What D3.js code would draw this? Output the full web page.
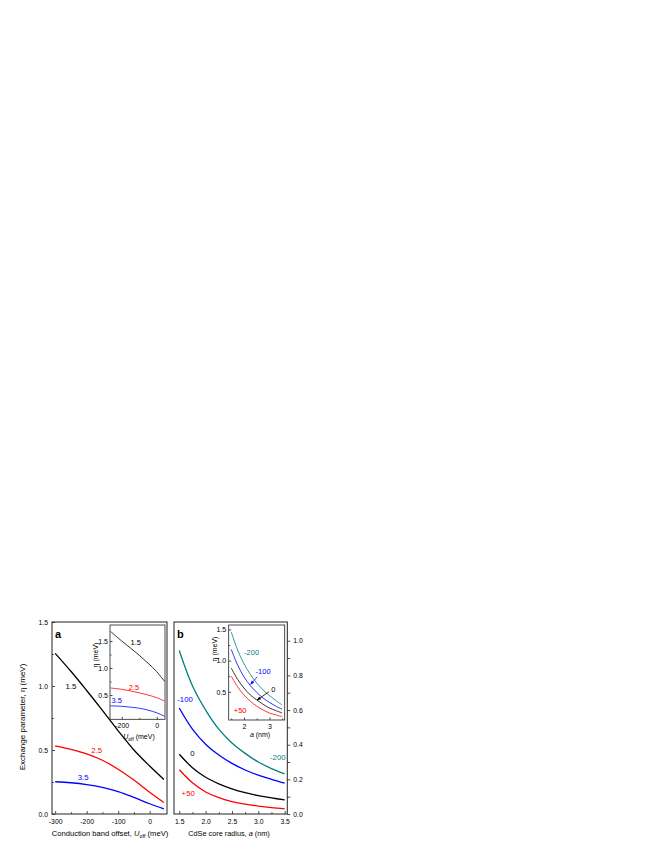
<!DOCTYPE html>
<html>
<head>
<meta charset="utf-8">
<script src="https://cdn.jsdelivr.net/npm/d3@7"></script>
<style>
    body { margin: 0; background: #fff; }
    svg text { font-family: "Liberation Sans", Arial, sans-serif; fill: #000; }
</style>
</head>
<body>
<svg id="chart" width="664" height="860"></svg>
<script>
// panel a, main: eta vs conduction band offset, one curve per core radius (nm)
var offsetA = [-300, -250, -200, -150, -100, -50, 0, 45];
var etaA15 = [1.255, 1.115, 0.965, 0.81, 0.65, 0.50, 0.375, 0.27];
var etaA25 = [0.532, 0.505, 0.47, 0.42, 0.35, 0.265, 0.17, 0.09];
var etaA35 = [0.252, 0.244, 0.23, 0.208, 0.175, 0.13, 0.08, 0.04];

// panel a, inset
var offsetIA = [-265, -200, -150, -100, -50, 0, 45];
var etaIA15 = [1.68, 1.50, 1.37, 1.235, 1.09, 0.93, 0.75];
var etaIA25 = [0.63, 0.605, 0.575, 0.54, 0.50, 0.45, 0.385];
var etaIA35 = [0.30, 0.29, 0.275, 0.255, 0.22, 0.17, 0.105];

// panel b, main: eta vs core radius, one curve per band offset (meV)
var radius = [1.5, 1.75, 2.0, 2.25, 2.5, 2.75, 3.0, 3.25, 3.5];
var etaBm200 = [0.944, 0.74, 0.60, 0.49, 0.41, 0.35, 0.30, 0.262, 0.231];
var etaBm100 = [0.612, 0.49, 0.403, 0.34, 0.292, 0.254, 0.224, 0.20, 0.178];
var etaB0 = [0.345, 0.267, 0.212, 0.174, 0.145, 0.123, 0.106, 0.093, 0.081];
var etaBp50 = [0.255, 0.18, 0.127, 0.094, 0.072, 0.057, 0.046, 0.037, 0.03];

// panel b, inset
var etaIBm200 = [1.46, 1.17, 0.95, 0.78, 0.64, 0.53, 0.44, 0.36, 0.29];
var etaIBm100 = [1.18, 0.93, 0.74, 0.60, 0.49, 0.40, 0.33, 0.27, 0.22];
var etaIB0 = [0.88, 0.70, 0.56, 0.45, 0.37, 0.30, 0.24, 0.20, 0.16];
var etaIBp50 = [0.75, 0.58, 0.45, 0.35, 0.27, 0.21, 0.16, 0.13, 0.10];

var RED = "#ff0000", BLUE = "#0000ff", TEAL = "#008080", BLACK = "#000";

var svg = d3.select("#chart");

var xA = d3.scaleLinear().domain([-310, 55]).range([52, 167]),
    yA = d3.scaleLinear().domain([0, 1.5]).range([814, 622]),
    xIA = d3.scaleLinear().domain([-267, 47]).range([110, 165]),
    yIA = d3.scaleLinear().domain([0, 1.8]).range([722, 624.8]),
    xB = d3.scaleLinear().domain([1.4, 3.55]).range([174, 287.3]),
    yB = d3.scaleLinear().domain([0, 1.1]).range([814, 623.4]),
    xIB = d3.scaleLinear().domain([1.4, 3.6]).range([228.7, 284.7]),
    yIB = d3.scaleLinear().domain([0, 1.6]).range([723, 623.2]);

function frame(x0, y0, x1, y1, w) {
    svg.append("rect")
        .attr("x", x0).attr("y", y0)
        .attr("width", x1 - x0).attr("height", y1 - y0)
        .attr("fill", "none").attr("stroke", "#222").attr("stroke-width", w);
}

function curve(xs, ys, x, y, color, w) {
    var pts = xs.map(function (d, i) { return [d, ys[i]]; });
    svg.append("path")
        .attr("d", d3.line().x(function (d) { return x(d[0]); })
            .y(function (d) { return y(d[1]); })
            .curve(d3.curveCatmullRom.alpha(0.5))(pts))
        .attr("fill", "none").attr("stroke", color).attr("stroke-width", w);
}

function axis(gen, tx, ty, size) {
    var g = svg.append("g").attr("transform", "translate(" + tx + "," + ty + ")").call(gen);
    g.select(".domain").remove();
    g.selectAll("line").attr("stroke", "#222").attr("stroke-width", 0.8);
    g.selectAll("text").attr("font-size", size || 6.8);
    g.attr("font-family", null).attr("font-size", null);
    return g;
}

function label(x, y, t, color, size, anchor) {
    return svg.append("text").attr("x", x).attr("y", y).attr("dy", "0.35em")
        .attr("text-anchor", anchor || "middle")
        .attr("font-size", size || 7.8)
        .style("fill", color || BLACK).text(t);
}

var plain = function (d) { return String(d); },
    one = d3.format(".1f");

// ---------- panel a ----------
frame(52, 622, 167, 814, 1);
axis(d3.axisBottom(xA).tickValues([-300, -200, -100, 0]).tickSize(-3).tickPadding(5).tickFormat(plain), 0, 814);
axis(d3.axisBottom(xA).tickValues([-250, -150, -50]).tickSize(-1.8).tickFormat(""), 0, 814);
axis(d3.axisLeft(yA).tickValues([0, 0.5, 1.0, 1.5]).tickSize(-3).tickPadding(4).tickFormat(one), 52, 0);
axis(d3.axisLeft(yA).tickValues([0.25, 0.75, 1.25]).tickSize(-1.8).tickFormat(""), 52, 0);

curve(offsetA, etaA15, xA, yA, BLACK, 1.3);
curve(offsetA, etaA25, xA, yA, RED, 1.3);
curve(offsetA, etaA35, xA, yA, BLUE, 1.3);
label(xA(-250), yA(1.0), "1.5", BLACK);
label(xA(-168), yA(0.5), "2.5", RED);
label(xA(-211), yA(0.29), "3.5", BLUE);
label(55, 634, "a", BLACK, 11, "start").attr("font-weight", "bold");

// inset a
frame(110, 625, 165, 719.3, 0.8);
axis(d3.axisBottom(xIA).tickValues([-200, 0]).tickSize(-2.5).tickPadding(4).tickFormat(plain), 0, 719.3, 7);
axis(d3.axisBottom(xIA).tickValues([-100]).tickSize(-1.5).tickFormat(""), 0, 719.3);
axis(d3.axisLeft(yIA).tickValues([0.5, 1.0, 1.5]).tickSize(-2.5).tickPadding(2).tickFormat(one), 110, 0, 7);
axis(d3.axisLeft(yIA).tickValues([0.75, 1.25]).tickSize(-1.5).tickFormat(""), 110, 0);
curve(offsetIA, etaIA15, xIA, yIA, BLACK, 0.8);
curve(offsetIA, etaIA25, xIA, yIA, RED, 0.8);
curve(offsetIA, etaIA35, xIA, yIA, BLUE, 0.8);
label(xIA(-120), yIA(1.48), "1.5", BLACK, 7.5);
label(xIA(-130), yIA(0.65), "2.5", RED, 7.5);
label(xIA(-228), yIA(0.40), "3.5", BLUE, 7.5);
svg.append("text").attr("transform", "translate(98,655) rotate(-90)")
    .attr("text-anchor", "middle").attr("font-size", 7).text("η (meV)");
var ua = svg.append("text").attr("x", 139).attr("y", 739).attr("text-anchor", "middle").attr("font-size", 7);
ua.append("tspan").attr("font-style", "italic").text("U");
ua.append("tspan").attr("font-size", 5).attr("dy", 1.5).text("off");
ua.append("tspan").attr("dy", -1.5).text(" (meV)");

// ---------- panel b ----------
frame(174, 622, 287.3, 814, 1);
axis(d3.axisBottom(xB).tickValues([1.5, 2.0, 2.5, 3.0, 3.5]).tickSize(-3).tickPadding(5).tickFormat(one), 0, 814);
axis(d3.axisBottom(xB).tickValues([1.75, 2.25, 2.75, 3.25]).tickSize(-1.8).tickFormat(""), 0, 814);
axis(d3.axisRight(yB).tickValues([0, 0.2, 0.4, 0.6, 0.8, 1.0]).tickSize(3).tickPadding(3).tickFormat(one), 287.3, 0);
axis(d3.axisRight(yB).tickValues([0.1, 0.3, 0.5, 0.7, 0.9]).tickSize(3).tickFormat(""), 287.3, 0);

curve(radius, etaBm200, xB, yB, TEAL, 1.3);
curve(radius, etaBm100, xB, yB, BLUE, 1.3);
curve(radius, etaB0, xB, yB, BLACK, 1.3);
curve(radius, etaBp50, xB, yB, RED, 1.3);
label(xB(1.61), yB(0.66), "-100", BLUE);
label(xB(1.75), yB(0.35), "0", BLACK);
label(xB(1.67), yB(0.12), "+50", RED);
label(xB(3.37), yB(0.33), "-200", TEAL);
label(177, 634, "b", BLACK, 11, "start").attr("font-weight", "bold");

// inset b
frame(228.7, 625, 284.7, 720, 0.8);
axis(d3.axisBottom(xIB).tickValues([2, 3]).tickSize(-2.5).tickPadding(4).tickFormat(plain), 0, 720, 7);
axis(d3.axisBottom(xIB).tickValues([1.5, 2.5, 3.5]).tickSize(-1.5).tickFormat(""), 0, 720);
axis(d3.axisLeft(yIB).tickValues([0.5, 1.0, 1.5]).tickSize(-2.5).tickPadding(2.5).tickFormat(one), 228.7, 0, 7);
axis(d3.axisLeft(yIB).tickValues([0.75, 1.25]).tickSize(-1.5).tickFormat(""), 228.7, 0);
curve(radius, etaIBm200, xIB, yIB, TEAL, 0.8);
curve(radius, etaIBm100, xIB, yIB, BLUE, 0.8);
curve(radius, etaIB0, xIB, yIB, BLACK, 0.8);
curve(radius, etaIBp50, xIB, yIB, RED, 0.8);
label(xIB(2.3), yIB(1.14), "-200", TEAL, 7.5);
label(xIB(2.75), yIB(0.82), "-100", BLUE, 7.5);
label(xIB(3.15), yIB(0.54), "0", BLACK, 7.5);
label(xIB(1.85), yIB(0.2), "+50", RED, 7.5);

svg.append("defs").selectAll("marker").data([["arB", BLUE], ["arK", BLACK]]).enter()
    .append("marker").attr("id", function (d) { return d[0]; })
    .attr("viewBox", "0 0 10 10").attr("refX", 9).attr("refY", 5)
    .attr("markerWidth", 5).attr("markerHeight", 5).attr("orient", "auto")
    .append("path").attr("d", "M0,1L10,5L0,9z").attr("fill", function (d) { return d[1]; });

svg.append("line").attr("x1", xIB(2.52)).attr("y1", yIB(0.74))
    .attr("x2", xIB(2.26)).attr("y2", yIB(0.62))
    .attr("stroke", BLUE).attr("stroke-width", 0.8).attr("marker-end", "url(#arB)");
svg.append("line").attr("x1", xIB(2.98)).attr("y1", yIB(0.5))
    .attr("x2", xIB(2.52)).attr("y2", yIB(0.37))
    .attr("stroke", BLACK).attr("stroke-width", 0.8).attr("marker-end", "url(#arK)");

svg.append("text").attr("transform", "translate(216.5,649) rotate(-90)")
    .attr("text-anchor", "middle").attr("font-size", 7).text("η (meV)");
var ab = svg.append("text").attr("x", 260).attr("y", 737).attr("text-anchor", "middle").attr("font-size", 7);
ab.append("tspan").attr("font-style", "italic").text("a");
ab.append("tspan").text(" (nm)");

// ---------- axis titles ----------
svg.append("text").attr("transform", "translate(25,717) rotate(-90)")
    .attr("text-anchor", "middle").attr("font-size", 8).text("Exchange parameter, η (meV)");

var ta = svg.append("text").attr("x", 110).attr("y", 836).attr("text-anchor", "middle").attr("font-size", 7.6);
ta.append("tspan").text("Conduction band offset, ");
ta.append("tspan").attr("font-style", "italic").text("U");
ta.append("tspan").attr("font-size", 5.5).attr("dy", 1.5).text("off");
ta.append("tspan").attr("dy", -1.5).text(" (meV)");

var tb = svg.append("text").attr("x", 229).attr("y", 836).attr("text-anchor", "middle").attr("font-size", 7.3);
tb.append("tspan").text("CdSe core radius, ");
tb.append("tspan").attr("font-style", "italic").text("a");
tb.append("tspan").text(" (nm)");
</script>
</body>
</html>
